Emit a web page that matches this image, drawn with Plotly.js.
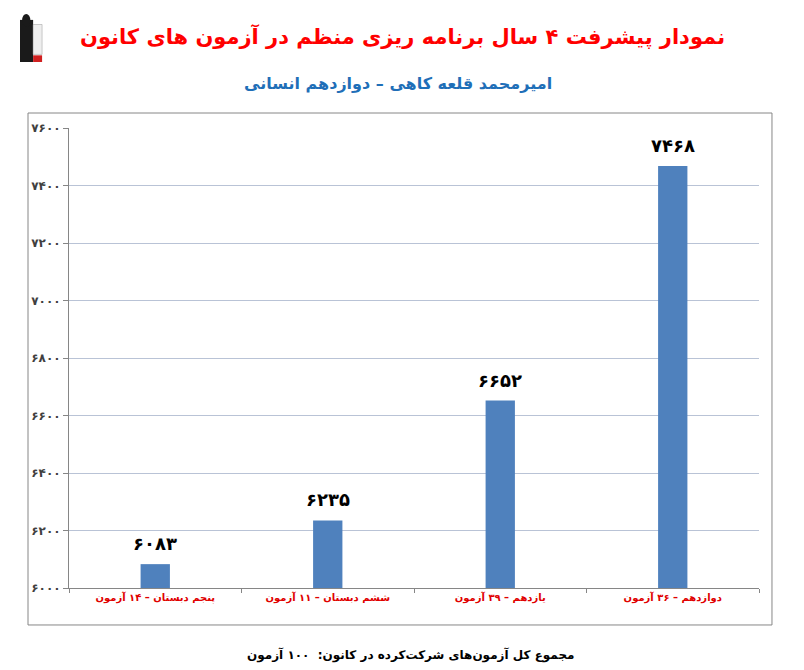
<!DOCTYPE html>
<html>
<head>
<meta charset="utf-8">
<script src="https://cdn.plot.ly/plotly-3.0.1.min.js"></script>
<style>html,body{margin:0;padding:0;background:#fff;}#chart{width:804px;height:670px;}</style>
</head>
<body>
<div id="chart"></div>
<script>
const categories = ["پنجم دبستان – ۱۴ آزمون", "ششم دبستان – ۱۱ آزمون", "یازدهم – ۳۹ آزمون", "دوازدهم – ۳۶ آزمون"];
const scores = [6083, 6235, 6652, 7468];
const yTickVals = [6000, 6200, 6400, 6600, 6800, 7000, 7200, 7400, 7600];
const yTickText = ["۶۰۰۰", "۶۲۰۰", "۶۴۰۰", "۶۶۰۰", "۶۸۰۰", "۷۰۰۰", "۷۲۰۰", "۷۴۰۰", "۷۶۰۰"];
const titleText = "نمودار پیشرفت ۴ سال برنامه ریزی منظم در آزمون های کانون";
const subtitleText = "امیرمحمد قلعه کاهی – دوازدهم انسانی";
const footerText = "مجموع کل آزمون‌های شرکت‌کرده در کانون:  ۱۰۰ آزمون";

const fa = s => String(s).replace(/[0-9]/g, d => "۰۱۲۳۴۵۶۷۸۹"[d]);
const FONT = "DejaVu Sans, sans-serif";

const trace = {
  type: "bar",
  x: categories,
  y: scores.map(v => v - 6000),
  base: 6000,
  width: 0.17,
  marker: {color: "#4f81bd"},
  hoverinfo: "skip"
};

const valueLabels = scores.map((v, i) => ({
  x: categories[i], y: v, xref: "x", yref: "y",
  text: "<b>" + fa(v) + "</b>", showarrow: false,
  yanchor: "bottom", yshift: 8,
  font: {family: FONT, size: 18, color: "#000"}
}));

const layout = {
  width: 804, height: 670,
  margin: {l: 69, r: 45, t: 128, b: 82},
  paper_bgcolor: "#fff", plot_bgcolor: "#fff",
  showlegend: false,
  font: {family: FONT},
  xaxis: {
    type: "category",
    showline: true, linecolor: "#868686", linewidth: 1,
    ticks: "outside", tickson: "boundaries", ticklen: 4, tickcolor: "#868686",
    showgrid: false,
    tickfont: {family: FONT, size: 10, color: "#e00000"},
    tickvals: categories,
    ticktext: categories.map(c => "<b>" + c + "</b>")
  },
  yaxis: {
    range: [6000, 7600],
    tickvals: yTickVals, ticktext: yTickText.map(t => "<b>" + t + "</b>"),
    showline: true, linecolor: "#868686", linewidth: 1,
    ticks: "outside", ticklen: 5, tickcolor: "#868686",
    gridcolor: "#b9c3d6", gridwidth: 1,
    zeroline: false,
    tickfont: {family: FONT, size: 12, color: "#404040"}
  },
  shapes: [
    {type: "rect", xref: "paper", yref: "paper", x0: -0.0594, x1: 1.0188, y0: -0.0804, y1: 1.0326,
     line: {color: "#868686", width: 1}, fillcolor: "rgba(0,0,0,0)", layer: "below"},
    {type: "rect", xref: "paper", yref: "paper", x0: -0.071, x1: -0.052, y0: 1.1435, y1: 1.235,
     line: {width: 0}, fillcolor: "#1a1a1a"},
    {type: "circle", xref: "paper", yref: "paper", x0: -0.068, x1: -0.056, y0: 1.22, y1: 1.248,
     line: {width: 0}, fillcolor: "#1a1a1a"},
    {type: "rect", xref: "paper", yref: "paper", x0: -0.052, x1: -0.039, y0: 1.1435, y1: 1.158,
     line: {width: 0}, fillcolor: "#d02020"},
    {type: "rect", xref: "paper", yref: "paper", x0: -0.052, x1: -0.039, y0: 1.16, y1: 1.225,
     line: {color: "#999", width: 0.5}, fillcolor: "#eeeeee"}
  ],
  annotations: valueLabels.concat([
    {text: "<b>" + titleText + "</b>", xref: "paper", yref: "paper", x: 0.484, y: 1.198,
     yanchor: "middle", showarrow: false, font: {family: FONT, size: 21, color: "#ff0000"}},
    {text: "<b>" + subtitleText + "</b>", xref: "paper", yref: "paper", x: 0.477, y: 1.0957,
     yanchor: "middle", showarrow: false, font: {family: FONT, size: 16, color: "#1f6fb8"}},
    {text: "<b>" + footerText + "</b>", xref: "paper", yref: "paper", x: 0.495, y: -0.1457,
     yanchor: "middle", showarrow: false, font: {family: FONT, size: 12, color: "#000"}}
  ])
};

Plotly.newPlot("chart", [trace], layout, {displayModeBar: false, staticPlot: true});
</script>
</body>
</html>
